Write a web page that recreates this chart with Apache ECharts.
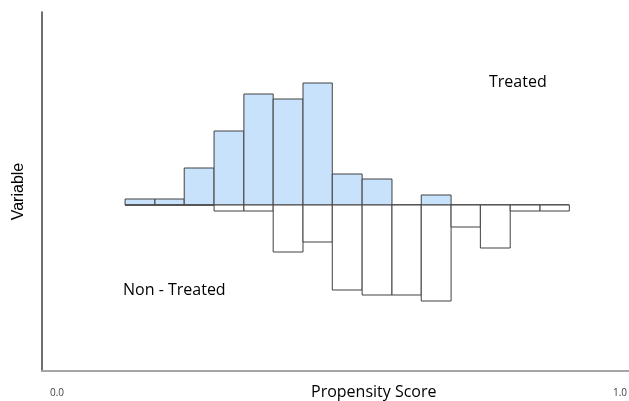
<!DOCTYPE html>
<html>
<head>
<meta charset="utf-8">
<script src="https://cdn.jsdelivr.net/npm/echarts@6/dist/echarts.min.js"></script>
<style>
html,body{margin:0;padding:0;background:#fff;}
#chart{width:629px;height:401px;}
</style>
</head>
<body>
<div id="chart"></div>
<script>
// Bin edges on the propensity-score axis (16 edges -> 15 bins)
var binEdges = [0.121, 0.174, 0.226, 0.279, 0.332, 0.384, 0.437, 0.489, 0.542, 0.595, 0.647, 0.700, 0.752, 0.805, 0.858, 0.910];
// Treated counts (drawn upward), arbitrary units
var treated = [6, 6, 37, 74, 111, 106, 122, 31, 26, 0, 10, 0, 0, 0, 0];
// Non-treated counts (drawn downward), arbitrary units
var nonTreated = [0, 0, 0, 6, 6, 47, 37, 85, 90, 90, 96, 22, 43, 6, 6];
// Axis tick labels
var xTickValues = [0, 1];
var xTickLabels = ['0.0', '1.0'];

var treatedData = treated.map(function (v, i) { return [binEdges[i], binEdges[i + 1], v]; });
var nonTreatedData = nonTreated.map(function (v, i) { return [binEdges[i], binEdges[i + 1], -v]; });

function renderBin(params, api) {
  var x0 = api.value(0), x1 = api.value(1), v = api.value(2);
  var p0 = api.coord([x0, Math.max(v, 0)]);
  var p1 = api.coord([x1, Math.min(v, 0)]);
  return {
    type: 'rect',
    shape: { x: p0[0], y: p0[1], width: p1[0] - p0[0], height: p1[1] - p0[1] },
    style: api.style({ fill: params.seriesIndex === 0 ? '#c9e2fc' : '#ffffff', stroke: '#404040', lineWidth: 1 })
  };
}

var chart = echarts.init(document.getElementById('chart'));
chart.setOption({
  backgroundColor: '#ffffff',
  animation: false,
  grid: { left: 42, right: 0, top: 12, bottom: 30, containLabel: false, outerBoundsMode: 'none' },
  xAxis: {
    type: 'value',
    min: -0.0266,
    max: 1.016,
    splitLine: { show: false },
    axisTick: { show: false },
    axisLine: { show: true, onZero: false, lineStyle: { color: '#a6a6a6', width: 2 } },
    axisLabel: {
      customValues: xTickValues,
      formatter: function (v) { return xTickLabels[xTickValues.indexOf(v)] || ''; },
      margin: 17,
      fontSize: 10,
      color: '#404040',
      fontFamily: 'Open Sans'
    }
  },
  yAxis: {
    type: 'value',
    min: -166,
    max: 193,
    name: 'Variable',
    nameLocation: 'middle',
    nameRotate: 90,
    nameGap: 15,
    nameTextStyle: { fontSize: 16, color: '#000000', fontFamily: 'Liberation Sans' },
    splitLine: { show: false },
    axisTick: { show: false },
    axisLabel: { show: false },
    axisLine: { show: true, onZero: false, lineStyle: { color: '#404040', width: 1.5 } }
  },
  graphic: [
    { type: 'text', left: 311, top: 384, style: { text: 'Propensity Score', font: '16px "Open Sans"', fill: '#000000' } },
    { type: 'text', left: 123, top: 282, style: { text: 'Non - Treated', font: '16px "Open Sans"', fill: '#000000' } },
    { type: 'text', left: 489, top: 74, style: { text: 'Treated', font: '16px "Open Sans"', fill: '#000000' } }
  ],
  series: [
    { name: 'Treated', type: 'custom', renderItem: renderBin, data: treatedData, encode: { x: [0, 1], y: 2 } },
    { name: 'Non - Treated', type: 'custom', renderItem: renderBin, data: nonTreatedData, encode: { x: [0, 1], y: 2 } }
  ]
});
</script>
</body>
</html>
